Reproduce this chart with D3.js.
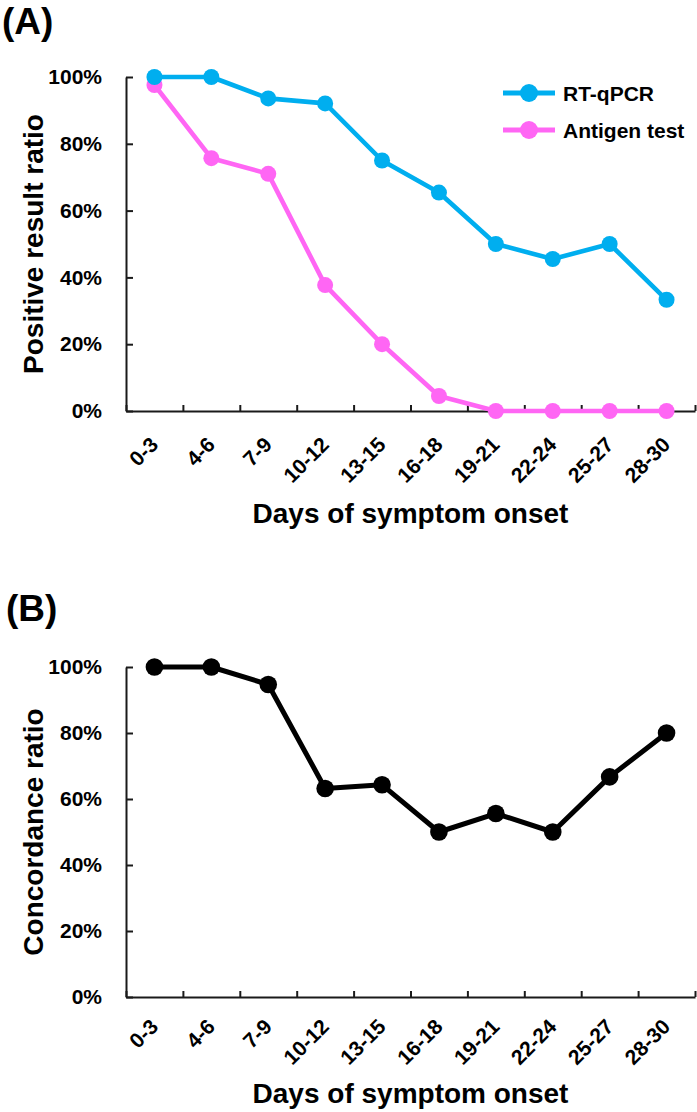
<!DOCTYPE html>
<html>
<head>
<meta charset="utf-8">
<script src="https://cdn.jsdelivr.net/npm/d3@7"></script>
<style>
  html, body { margin: 0; padding: 0; background: #fff; }
  svg { display: block; }
  text { font-family: "Liberation Sans", Arial, sans-serif; font-weight: bold; fill: #000; }
</style>
</head>
<body>
<svg id="chart" width="697" height="1112"></svg>
<script>
const categories = ["0-3","4-6","7-9","10-12","13-15","16-18","19-21","22-24","25-27","28-30"];
const rtqpcr = [100, 100, 93.6, 92.1, 75, 65.4, 50, 45.5, 50, 33.3];
const antigen = [97.6, 75.7, 71, 37.7, 20, 4.5, 0, 0, 0, 0];
const concordance = [100, 100, 94.7, 63.2, 64.3, 50, 55.6, 50, 66.7, 80];
const yTicks = [0, 20, 40, 60, 80, 100];
const seriesNames = ["RT-qPCR", "Antigen test"];
const seriesColors = ["#00AEEF", "#FF66F4"];

const svg = d3.select("#chart");
const left = 126, right = 695;

function drawPanel(opts) {
  const g = svg.append("g");
  const x = d3.scaleBand().domain(categories).range([left, right]).paddingInner(0).paddingOuter(0);
  const xb = d3.scaleLinear().domain([0, categories.length]).range([left, right]);
  const y = d3.scaleLinear().domain([0, 100]).range([opts.bottom, opts.top]);

  // y axis
  const ya = g.append("g").attr("transform", `translate(${left},0)`)
    .call(d3.axisLeft(y).tickValues(yTicks).tickSizeInner(-7).tickSizeOuter(0).tickPadding(24)
      .tickFormat(d => d + "%"));
  ya.select(".domain").attr("stroke", "#1a1a1a").attr("stroke-width", 2);
  ya.selectAll(".tick line").attr("stroke", "#1a1a1a").attr("stroke-width", 2);
  ya.selectAll(".tick text").style("font-size", "21px").style("font-family", "'Liberation Sans', Arial, sans-serif").style("font-weight", "bold").attr("fill", "#000");

  // x axis (boundary ticks)
  const xa = g.append("g").attr("transform", `translate(0,${opts.bottom})`)
    .call(d3.axisBottom(xb).tickValues(d3.range(0, categories.length + 1)).tickSizeInner(-6).tickSizeOuter(0).tickFormat(""));
  xa.select(".domain").attr("stroke", "#1a1a1a").attr("stroke-width", 2);
  xa.selectAll(".tick line").attr("stroke", "#1a1a1a").attr("stroke-width", 2);

  // x labels rotated
  g.append("g").selectAll("text").data(categories).join("text")
    .attr("transform", d => `translate(${x(d) + x.bandwidth() / 2 + 5},${opts.bottom + opts.labelOff}) rotate(-45)`)
    .attr("text-anchor", "end")
    .style("font-size", "21px")
    .text(d => d);

  // axis titles
  g.append("text")
    .attr("transform", `translate(43,${(opts.top + opts.bottom) / 2}) rotate(-90)`)
    .attr("text-anchor", "middle")
    .style("font-size", "28px")
    .text(opts.yTitle);
  g.append("text")
    .attr("x", (left + right) / 2).attr("y", opts.xTitleY)
    .attr("text-anchor", "middle")
    .style("font-size", "28px")
    .text("Days of symptom onset");

  // panel label
  g.append("text").attr("x", opts.labelX).attr("y", opts.labelY)
    .style("font-size", "37px").text(opts.panel);

  // series
  const line = d3.line().x((d, i) => x(categories[i]) + x.bandwidth() / 2).y(d => y(d));
  opts.series.forEach(s => {
    g.append("path").datum(s.values).attr("d", line)
      .attr("fill", "none").attr("stroke", s.color).attr("stroke-width", s.w).attr("stroke-linejoin", "round");
    g.append("g").selectAll("circle").data(s.values).join("circle")
      .attr("cx", (d, i) => x(categories[i]) + x.bandwidth() / 2)
      .attr("cy", d => y(d))
      .attr("r", s.r)
      .attr("fill", s.color);
  });
  return { x, y };
}

drawPanel({
  top: 77, bottom: 411, labelOff: 35, xTitleY: 523, yTitle: "Positive result ratio",
  panel: "(A)", labelX: 2, labelY: 34,
  series: [
    { values: antigen, color: seriesColors[1], r: 8, w: 4.6 },
    { values: rtqpcr, color: seriesColors[0], r: 8, w: 4.6 }
  ]
});

drawPanel({
  top: 667, bottom: 997, labelOff: 31, xTitleY: 1103, yTitle: "Concordance ratio",
  panel: "(B)", labelX: 6, labelY: 621,
  series: [
    { values: concordance, color: "#000", r: 8.8, w: 5 }
  ]
});

// legend
const legend = svg.append("g");
const legendRows = [93, 130];
seriesNames.forEach((name, i) => {
  const row = legend.append("g").attr("transform", `translate(0,${legendRows[i]})`);
  row.append("line").attr("x1", 503).attr("x2", 555).attr("y1", 0).attr("y2", 0)
    .attr("stroke", seriesColors[i]).attr("stroke-width", 5);
  row.append("circle").attr("cx", 529).attr("cy", 0).attr("r", 9).attr("fill", seriesColors[i]);
  row.append("text").attr("x", 563).attr("y", 7.5).style("font-size", "21px").text(name);
});
</script>
</body>
</html>
